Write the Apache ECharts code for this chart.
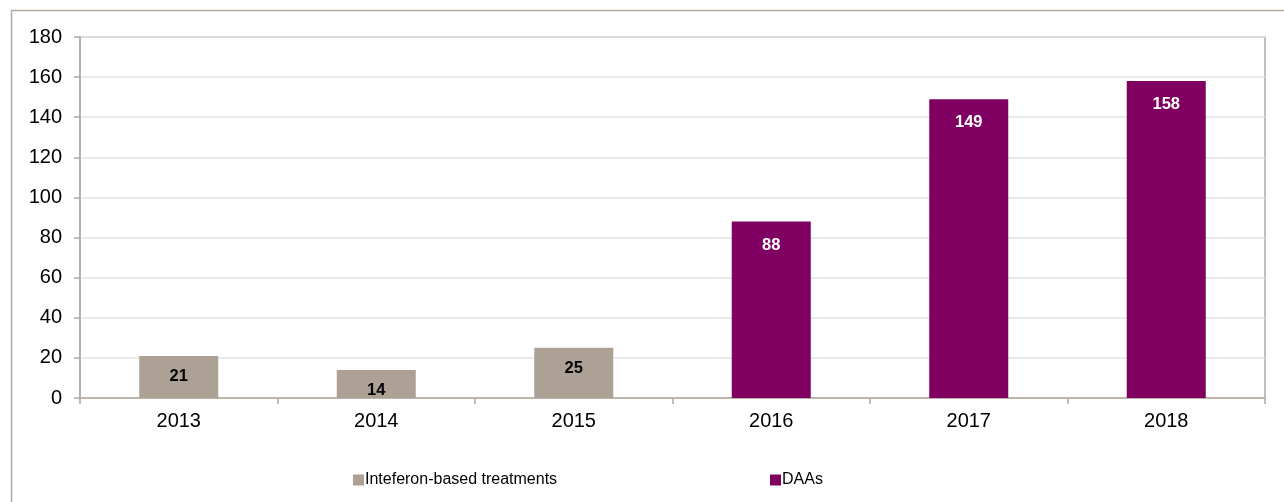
<!DOCTYPE html>
<html>
<head>
<meta charset="utf-8">
<script src="https://cdn.jsdelivr.net/npm/echarts@6/dist/echarts.min.js"></script>
<style>html,body{margin:0;padding:0;background:#fff;}#c{width:1284px;height:502px;}</style>
</head>
<body>
<div id="c"></div>
<script>
const categories = ['2013', '2014', '2015', '2016', '2017', '2018'];
const interferon = [21, 14, 25, null, null, null];
const daas = [null, null, null, 88, 149, 158];
const seriesNames = ['Inteferon-based treatments', 'DAAs'];

const axisColor = '#b2a99f';
const font = '"Liberation Sans", Arial, sans-serif';
const chart = echarts.init(document.getElementById('c'), null, {renderer: 'canvas'});
chart.setOption({
  animation: false,
  backgroundColor: '#fff',
  graphic: [{
    type: 'rect', left: 9, top: 8, z: -10, silent: true,
    shape: {x: 0, y: 0, width: 1400, height: 700},
    style: {fill: 'none', stroke: axisColor, lineWidth: 1.5}
  }],
  grid: {left: 80, right: 19, top: 37, bottom: 104, show: true, borderColor: axisColor, borderWidth: 1.5, backgroundColor: 'transparent'},
  legend: [
    {data: [seriesNames[0]], left: 348, top: 467, itemWidth: 11, itemHeight: 11, icon: 'rect', itemGap: 0,
     textStyle: {fontFamily: font, fontSize: 16, color: '#000', padding: [0,0,0,-4]}},
    {data: [seriesNames[1]], left: 765, top: 467, itemWidth: 11, itemHeight: 11, icon: 'rect', itemGap: 0,
     textStyle: {fontFamily: font, fontSize: 16, color: '#000', padding: [0,0,0,-4]}}
  ],
  xAxis: {
    type: 'category', data: categories,
    axisLine: {lineStyle: {color: axisColor, width: 1.5}},
    axisTick: {show: true, length: 6, lineStyle: {color: axisColor, width: 1.5}, alignWithLabel: false},
    axisLabel: {fontFamily: font, fontSize: 20, color: '#000', margin: 13}
  },
  yAxis: {
    type: 'value', min: 0, max: 180, interval: 20,
    axisLine: {show: true, lineStyle: {color: axisColor, width: 1.5}},
    axisTick: {show: true, length: 6, lineStyle: {color: axisColor, width: 1.5}},
    axisLabel: {fontFamily: font, fontSize: 20, color: '#000', margin: 18},
    splitLine: {lineStyle: {color: '#e3e3e3', width: 1.5}}
  },
  series: [
    {name: seriesNames[0], type: 'bar', data: interferon, barWidth: 79, barGap: '-100%',
     itemStyle: {color: '#ada196'},
     label: {show: true, position: 'insideTop', distance: 12, fontFamily: font, fontSize: 16.5, fontWeight: 'bold', color: '#000'}},
    {name: seriesNames[1], type: 'bar', data: daas, barWidth: 79, barGap: '-100%',
     itemStyle: {color: '#7f0060'},
     label: {show: true, position: 'insideTop', distance: 15, fontFamily: font, fontSize: 16.5, fontWeight: 'bold', color: '#fff'}}
  ]
});
</script>
</body>
</html>
